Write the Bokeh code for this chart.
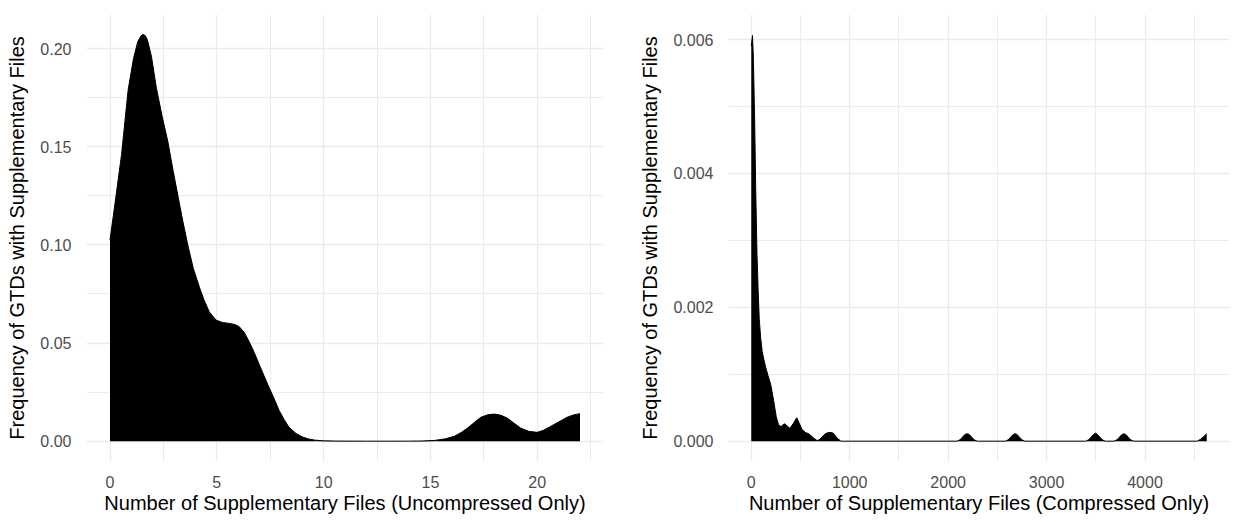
from bokeh.plotting import figure
from bokeh.layouts import row
from bokeh.models import FixedTicker, PrintfTickFormatter
from bokeh.embed import file_html
from bokeh.resources import INLINE

# ---- data: density curve of uncompressed-only counts ----
unc_x = [0.0, 0.27, 0.54, 0.85, 1.1, 1.3, 1.45, 1.55, 1.65, 1.75, 1.94, 2.17, 2.43, 2.71, 2.95,
         3.18, 3.41, 3.64, 3.9, 4.19, 4.4, 4.65, 4.96, 5.25, 5.58, 5.85, 6.05, 6.28, 6.51, 6.75,
         6.98, 7.21, 7.44, 7.67, 7.91, 8.14, 8.37, 8.7, 8.99, 9.3, 9.6, 10.0, 10.5, 11.0, 12.0,
         13.0, 14.0, 14.6, 15.2, 15.7, 16.12, 16.45, 16.74, 17.05, 17.36, 17.7, 17.99, 18.3,
         18.6, 18.9, 19.22, 19.6, 20.0, 20.3, 20.62, 21.0, 21.4, 21.7, 22.0]
unc_y = [0.1025, 0.124, 0.146, 0.179, 0.195, 0.2035, 0.2065, 0.2072, 0.2066, 0.2045, 0.196, 0.180,
         0.166, 0.1525, 0.138, 0.125, 0.112, 0.100, 0.088, 0.0783, 0.072, 0.0658, 0.0617, 0.0605,
         0.0600, 0.0594, 0.0583, 0.0555, 0.0508, 0.0452, 0.0392, 0.0333, 0.0275, 0.0220, 0.0158,
         0.0112, 0.0072, 0.0040, 0.0022, 0.0011, 0.0005, 0.0002, 0.00008, 0.00003, 0.0, 0.0,
         0.00002, 0.0001, 0.0004, 0.0012, 0.0025, 0.0045, 0.0067, 0.0095, 0.0122, 0.0135, 0.0138,
         0.0132, 0.0117, 0.0093, 0.0067, 0.0050, 0.0045, 0.0056, 0.0075, 0.0098, 0.0122, 0.0134,
         0.0140]

# ---- data: density curve of compressed-only counts ----
cmp_x = [0, 12, 21, 35, 45, 58, 70, 81, 95, 111, 128, 147, 170, 197, 227, 253, 277, 303, 336, 365,
         392, 425, 462, 490, 518, 550, 584, 630, 667, 690, 717, 750, 783, 810, 833, 870, 910,
         2090, 2120, 2145, 2170, 2192, 2215, 2240, 2265, 2295,
         2580, 2610, 2635, 2660, 2680, 2700, 2725, 2750, 2780,
         3397, 3427, 3452, 3477, 3497, 3517, 3542, 3567, 3597,
         3685, 3715, 3740, 3765, 3785, 3805, 3830, 3855, 3885,
         4530, 4565, 4597, 4627]
cmp_y = [0.00590, 0.00606, 0.00575, 0.00475, 0.00378, 0.00280, 0.00225, 0.00183, 0.00155, 0.00134,
         0.00122, 0.00110, 0.00098, 0.00085, 0.00061, 0.00037, 0.00024, 0.00022, 0.00026, 0.00023,
         0.00019, 0.00026, 0.00035, 0.00026, 0.00017, 0.00013, 0.00011, 0.00005, 0.00001, 0.00002,
         0.00006, 0.00011, 0.00013, 0.00013, 0.00012, 0.00005, 0.0,
         0.0, 0.00002, 0.00006, 0.00010, 0.00011, 0.00010, 0.00006, 0.00002, 0.0,
         0.0, 0.00002, 0.00006, 0.00010, 0.00011, 0.00010, 0.00006, 0.00002, 0.0,
         0.0, 0.00002, 0.00006, 0.00010, 0.00012, 0.00010, 0.00006, 0.00002, 0.0,
         0.0, 0.00002, 0.00006, 0.00010, 0.00011, 0.00010, 0.00006, 0.00002, 0.0,
         0.0, 0.00003, 0.00007, 0.00011]

# ---- ticks / labels ----
unc_xticks = [0, 5, 10, 15, 20]
unc_xminor = [2.5, 7.5, 12.5, 17.5, 22.5]
unc_yticks = [0.0, 0.05, 0.10, 0.15, 0.20]
unc_yminor = [0.025, 0.075, 0.125, 0.175]
cmp_xticks = [0, 1000, 2000, 3000, 4000]
cmp_xminor = [500, 1500, 2500, 3500, 4500]
cmp_yticks = [0.0, 0.002, 0.004, 0.006]
cmp_yminor = [0.001, 0.003, 0.005]

y_title = "Frequency of GTDs with Supplementary Files"
unc_xtitle = "Number of Supplementary Files (Uncompressed Only)"
cmp_xtitle = "Number of Supplementary Files (Compressed Only)"

FONT = "Liberation Sans"
GRID = "#EBEBEB"


def styled(p, xt, xm, yt, ym, xfmt, yfmt, xlab, ylab):
    xtk = FixedTicker(ticks=xt, minor_ticks=xm)
    ytk = FixedTicker(ticks=yt, minor_ticks=ym)
    p.xaxis.ticker = xtk
    p.yaxis.ticker = ytk
    p.xgrid.ticker = xtk
    p.ygrid.ticker = ytk
    p.xaxis.formatter = PrintfTickFormatter(format=xfmt)
    p.yaxis.formatter = PrintfTickFormatter(format=yfmt)
    for g in (p.xgrid, p.ygrid):
        g.grid_line_color = GRID
        g.grid_line_width = 1.3
        g.minor_grid_line_color = GRID
        g.minor_grid_line_width = 1.0
    for ax in (p.xaxis, p.yaxis):
        ax.axis_line_color = None
        ax.major_tick_line_color = None
        ax.minor_tick_line_color = None
        ax.major_label_text_font = FONT
        ax.major_label_text_font_size = "16px"
        ax.major_label_text_color = "#4D4D4D"
        ax.axis_label_text_font = FONT
        ax.axis_label_text_font_size = "20px"
        ax.axis_label_text_font_style = "normal"
        ax.axis_label_text_color = "black"
    p.xaxis.axis_label = xlab
    p.yaxis.axis_label = ylab
    p.xaxis.major_label_standoff = 8
    p.xaxis.axis_label_standoff = 1
    p.yaxis.major_label_standoff = 9
    p.yaxis.axis_label_standoff = 9
    p.outline_line_color = None
    p.background_fill_color = "white"
    p.border_fill_color = "white"
    return p


p1 = figure(frame_width=517, frame_height=447,
            x_range=(-1.1, 23.1), y_range=(-0.01035, 0.21735),
            output_backend="svg", toolbar_location=None,
            min_border_left=86, min_border_right=14, min_border_top=14, min_border_bottom=50)
p1.varea(x=unc_x, y1=0, y2=unc_y, fill_color="black")
p1.line(x=unc_x, y=unc_y, line_color="black", line_width=1)
styled(p1, unc_xticks, unc_xminor, unc_yticks, unc_yminor, "%d", "%.2f", unc_xtitle, y_title)

p2 = figure(frame_width=501, frame_height=447,
            x_range=(-231.35, 4858.35), y_range=(-0.0003035, 0.0063735),
            output_backend="svg", toolbar_location=None,
            min_border_left=111, min_border_right=3, min_border_top=14, min_border_bottom=50)
p2.varea(x=cmp_x, y1=0, y2=cmp_y, fill_color="black")
p2.line(x=cmp_x, y=cmp_y, line_color="black", line_width=1)
styled(p2, cmp_xticks, cmp_xminor, cmp_yticks, cmp_yminor, "%d", "%.3f", cmp_xtitle, y_title)

layout = row(p1, p2)
open("out.html", "w").write(file_html(layout, INLINE))
